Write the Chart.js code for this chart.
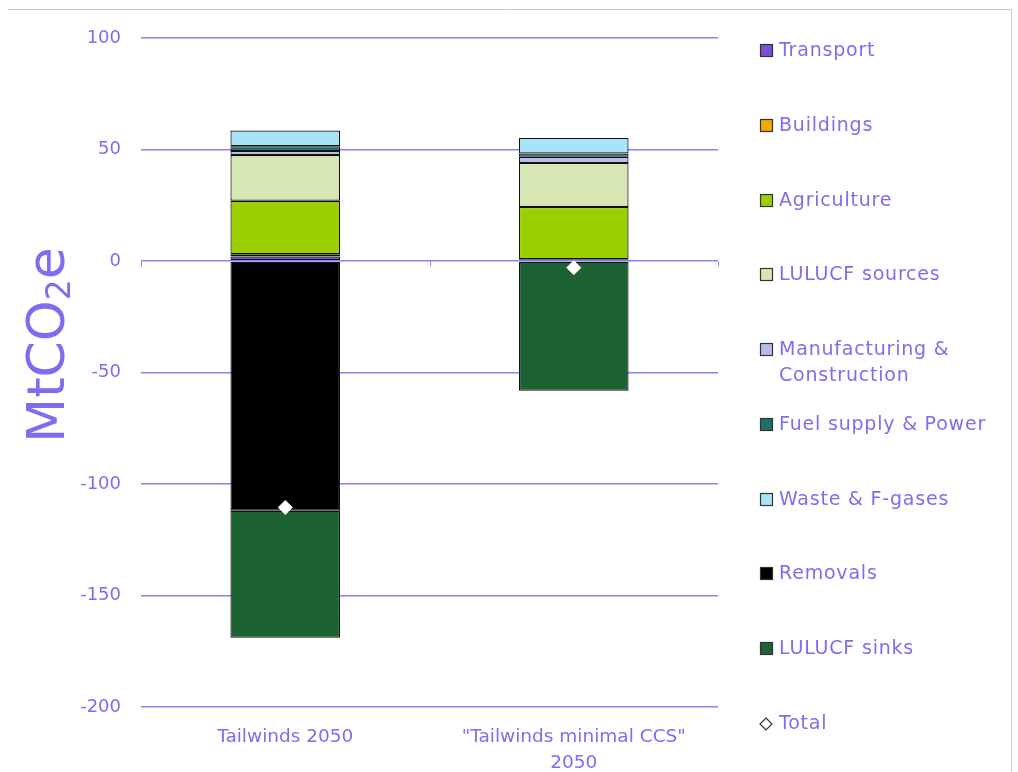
<!DOCTYPE html>
<html>
<head>
<meta charset="utf-8">
<script src="https://cdn.jsdelivr.net/npm/chart.js@4/dist/chart.umd.min.js"></script>
<style>
  body { margin: 0; background: #fff; }
</style>
</head>
<body>
<canvas id="chart" width="1018" height="772"></canvas>
<script>
const categories = ["Tailwinds 2050", ['"Tailwinds minimal CCS"', "2050"]];

const transport = [2, 0.5];
const buildings = [1, 0.3];
const agriculture = [24, 23.4];
const lulucfSources = [20.5, 19.8];
const manufacturing = [1.8, 2.7];
const fuelSupply = [2.2, 1.5];
const waste = [7, 7];
const removals = [-112, null];
const lulucfSinks = [-57, -58.2];
const total = [-110.5, -3];

const yTicks = { min: -200, max: 100, step: 50 };

const textColor = "#7d6df0";
const gridColor = "#8f80f6";
const font = "'DejaVu Sans', sans-serif";

function bar(label, data, color) {
  return {
    type: "bar",
    label: label,
    data: data,
    backgroundColor: color,
    borderColor: "#111111",
    borderWidth: 1.2,
    borderSkipped: false,
    stack: "s",
    order: 1,
    barPercentage: 0.38,
    categoryPercentage: 1,
  };
}

const datasets = [
  bar("Transport", transport, "#7a52d6"),
  bar("Buildings", buildings, "#f5a800"),
  bar("Agriculture", agriculture, "#9bcf00"),
  bar("LULUCF sources", lulucfSources, "#d6e6b4"),
  bar(["Manufacturing &", "Construction"], manufacturing, "#b7bde8"),
  bar("Fuel supply & Power", fuelSupply, "#1f6e6b"),
  bar("Waste & F-gases", waste, "#a9e3f7"),
  bar("Removals", removals, "#000000"),
  bar("LULUCF sinks", lulucfSinks, "#1d6233"),
  {
    type: "line",
    label: "Total",
    data: total,
    showLine: false,
    stack: "total",
    order: 0,
    pointStyle: "rectRot",
    pointRadius: 7,
    pointHoverRadius: 7,
    pointBackgroundColor: "#ffffff",
    pointBorderColor: "#ffffff",
    pointBorderWidth: 1,
  },
];

// frame, y title, legend and the zero-line ticks
const decorations = {
  id: "decorations",
  beforeDraw(chart) {
    const ctx = chart.ctx;
    ctx.save();
    ctx.strokeStyle = "#c9c9c9";
    ctx.lineWidth = 1;
    ctx.beginPath();
    ctx.moveTo(8, 9.5);
    ctx.lineTo(1011.5, 9.5);
    ctx.lineTo(1011.5, 772);
    ctx.stroke();
    ctx.restore();
  },
  afterDraw(chart) {
    const ctx = chart.ctx;
    const x = chart.scales.x;
    const y = chart.scales.y;
    ctx.save();

    // small ticks on the zero line at category boundaries
    const y0 = Math.round(y.getPixelForValue(0)) + 0.5;
    ctx.strokeStyle = gridColor;
    ctx.lineWidth = 1;
    const half = (x.getPixelForValue(1) - x.getPixelForValue(0)) / 2;
    for (let i = 0; i <= categories.length; i++) {
      const px = Math.round(x.getPixelForValue(0) - half + i * 2 * half) + 0.5;
      ctx.beginPath();
      ctx.moveTo(px, y0);
      ctx.lineTo(px, y0 + 5);
      ctx.stroke();
    }

    // y axis title with subscript
    ctx.fillStyle = textColor;
    ctx.translate(64, 345);
    ctx.rotate(-Math.PI / 2);
    ctx.textBaseline = "alphabetic";
    ctx.font = "52px " + font;
    const w1 = ctx.measureText("MtCO").width;
    ctx.font = "33px " + font;
    const w2 = ctx.measureText("2").width;
    ctx.font = "52px " + font;
    const w3 = ctx.measureText("e").width;
    let cx = -(w1 + w2 + w3) / 2;
    ctx.fillText("MtCO", cx, 0);
    ctx.font = "33px " + font;
    ctx.fillText("2", cx + w1, 6);
    ctx.font = "52px " + font;
    ctx.fillText("e", cx + w1 + w2, 0);
    ctx.setTransform(1, 0, 0, 1, 0, 0);

    // legend
    const top = 51;
    const step = (724 - 51) / (chart.data.datasets.length - 1);
    ctx.font = "19px " + font;
    ctx.letterSpacing = "0.8px";
    ctx.textBaseline = "middle";
    chart.data.datasets.forEach((ds, i) => {
      const cy = Math.round(top + i * step);
      if (ds.type === "line") {
        ctx.beginPath();
        ctx.moveTo(766, cy - 6);
        ctx.lineTo(772, cy);
        ctx.lineTo(766, cy + 6);
        ctx.lineTo(760, cy);
        ctx.closePath();
        ctx.fillStyle = "#fff";
        ctx.fill();
        ctx.strokeStyle = "#333";
        ctx.lineWidth = 1.2;
        ctx.stroke();
      } else {
        ctx.fillStyle = ds.backgroundColor;
        ctx.fillRect(760.5, cy - 6.5, 12, 12);
        ctx.strokeStyle = "#333";
        ctx.lineWidth = 1.2;
        ctx.strokeRect(760.5, cy - 6.5, 12, 12);
      }
      ctx.fillStyle = textColor;
      const lines = Array.isArray(ds.label) ? ds.label : [ds.label];
      lines.forEach((t, j) => ctx.fillText(t, 779, cy + j * 26));
    });
    ctx.restore();
  },
};

new Chart(document.getElementById("chart"), {
  data: { labels: categories, datasets: datasets },
  options: {
    responsive: false,
    animation: false,
    layout: { padding: { left: 0, right: 300, top: 38, bottom: 0 } },
    plugins: {
      legend: { display: false },
      tooltip: { enabled: false },
    },
    scales: {
      x: {
        stacked: true,
        grid: { display: false },
        border: { display: false },
        ticks: {
          color: textColor,
          font: { family: font, size: 18.5, lineHeight: 1.4 },
          padding: 9,
          maxRotation: 0,
        },
        afterFit: (s) => { s.height = 772 - 707; },
      },
      y: {
        stacked: true,
        min: yTicks.min,
        max: yTicks.max,
        ticks: {
          stepSize: yTicks.step,
          color: textColor,
          font: { family: font, size: 18 },
          padding: 20,
        },
        grid: { color: gridColor, lineWidth: 1.5, drawTicks: false },
        border: { display: false },
        afterFit: (s) => { s.width = 141; },
      },
    },
  },
  plugins: [decorations],
});
</script>
</body>
</html>
